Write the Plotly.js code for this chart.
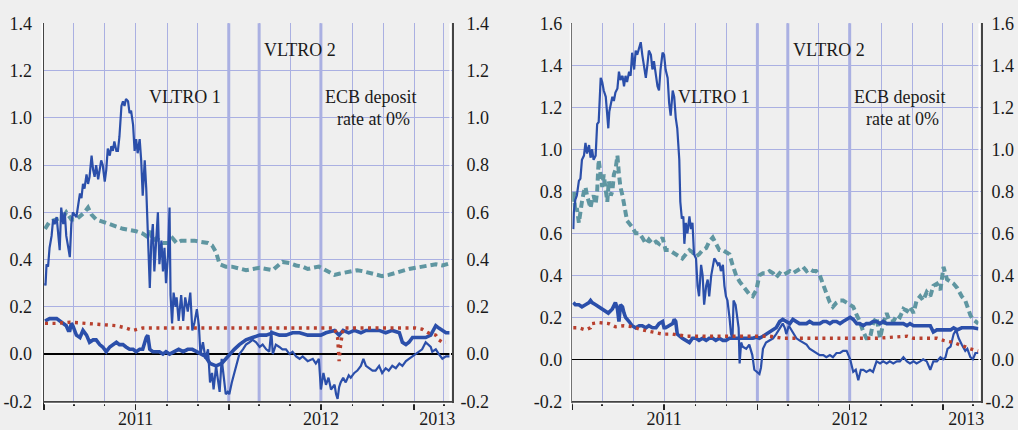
<!DOCTYPE html>
<html><head><meta charset="utf-8">
<script src="https://cdn.plot.ly/plotly-3.0.1.min.js"></script>
<style>html,body{margin:0;padding:0;background:#efefef;}#chart{width:1018px;height:430px;}</style>
</head><body><div id="chart"></div>
<script>
// ---------- DATA ----------
// Left panel
const leftThinDates = ['2011-01-03','2011-01-04','2011-01-06','2011-01-09','2011-01-12','2011-01-16','2011-01-19','2011-01-22','2011-01-26','2011-01-29','2011-02-01','2011-02-04','2011-02-08','2011-02-11','2011-02-14','2011-02-18','2011-02-21','2011-02-24','2011-02-27','2011-03-06','2011-03-09','2011-03-13','2011-03-16','2011-03-19','2011-03-22','2011-03-26','2011-03-29','2011-04-01','2011-04-05','2011-04-08','2011-04-11','2011-04-14','2011-04-18','2011-04-21','2011-04-24','2011-04-27','2011-05-01','2011-05-04','2011-05-07','2011-05-11','2011-05-14','2011-05-17','2011-05-20','2011-05-24','2011-05-27','2011-05-30','2011-06-03','2011-06-06','2011-06-09','2011-06-12','2011-06-16','2011-06-19','2011-06-22','2011-06-26','2011-06-29','2011-07-02','2011-07-05','2011-07-09','2011-07-12','2011-07-15','2011-07-19','2011-07-22','2011-07-25','2011-07-29','2011-08-01','2011-08-04','2011-08-07','2011-08-11','2011-08-14','2011-08-17','2011-08-21','2011-08-24','2011-08-27','2011-08-30','2011-09-03','2011-09-06','2011-09-08','2011-09-11','2011-09-14','2011-09-18','2011-09-20','2011-09-24','2011-09-29','2011-10-03','2011-10-07','2011-10-12','2011-10-17','2011-10-21','2011-10-25','2011-10-30','2011-11-03','2011-11-06','2011-11-11','2011-11-16','2011-11-21','2011-11-25','2011-11-29','2011-12-02','2011-12-07','2011-12-10','2011-12-14','2011-12-18','2011-12-22','2011-12-26','2011-12-30','2012-01-02','2012-01-07','2012-01-12','2012-01-17','2012-01-22','2012-01-29','2012-02-04','2012-02-11','2012-02-17','2012-02-24','2012-03-02','2012-03-08','2012-03-15','2012-03-21','2012-03-25','2012-03-28','2012-04-03','2012-04-10','2012-04-16','2012-04-23','2012-04-30','2012-05-06','2012-05-13','2012-05-20','2012-05-26','2012-06-05','2012-06-15','2012-06-21','2012-06-27','2012-07-01','2012-07-06','2012-07-11','2012-07-16','2012-07-21','2012-07-28','2012-07-31','2012-08-03','2012-08-06','2012-08-09','2012-08-14','2012-08-19','2012-08-25','2012-08-29','2012-09-05','2012-09-11','2012-09-18','2012-09-23','2012-09-28','2012-10-04','2012-10-11','2012-10-17','2012-10-24','2012-10-30','2012-11-06','2012-11-12','2012-11-19','2012-11-26','2012-12-03','2012-12-09','2012-12-16','2012-12-22','2012-12-29','2013-01-04','2013-01-11','2013-01-17','2013-01-24','2013-01-29','2013-02-03','2013-02-06','2013-02-13','2013-02-19','2013-02-26','2013-03-05','2013-03-15'];
const leftThinVals = [0.30,0.29,0.38,0.37,0.45,0.50,0.57,0.55,0.58,0.50,0.44,0.62,0.55,0.60,0.50,0.45,0.41,0.55,0.60,0.58,0.62,0.68,0.66,0.72,0.70,0.76,0.72,0.75,0.84,0.78,0.75,0.80,0.74,0.78,0.82,0.80,0.73,0.78,0.87,0.84,0.88,0.86,0.90,0.86,0.86,0.92,1.05,1.07,1.05,1.08,1.07,1.02,1.03,0.97,0.86,0.91,0.85,0.91,0.82,0.67,0.82,0.70,0.55,0.28,0.48,0.55,0.35,0.50,0.60,0.38,0.48,0.35,0.45,0.30,0.42,0.62,0.25,0.13,0.26,0.20,0.24,0.14,0.25,0.14,0.24,0.18,0.26,0.10,0.13,0.19,0.12,0.00,0.05,-0.02,0.02,-0.12,-0.08,-0.15,-0.05,-0.10,-0.16,-0.02,-0.10,-0.17,-0.16,-0.17,-0.12,-0.08,-0.04,0.00,0.02,0.04,0.05,0.06,0.05,0.03,0.04,0.02,0.01,0.10,0.00,0.04,0.03,0.02,0.02,0.00,0.01,-0.01,-0.02,-0.01,-0.03,-0.02,-0.04,-0.02,-0.15,-0.08,-0.13,-0.10,-0.15,-0.13,-0.17,-0.19,-0.14,-0.12,-0.10,-0.12,-0.09,-0.10,-0.08,-0.07,-0.05,-0.02,-0.05,-0.06,-0.07,-0.07,-0.05,-0.08,-0.06,-0.07,-0.05,-0.06,-0.04,-0.05,-0.03,-0.02,-0.01,0.00,0.01,0.02,0.05,0.04,0.03,0.01,0.02,0.00,-0.02,-0.01,-0.01];

const leftThickDates = ['2011-01-03','2011-01-12','2011-01-26','2011-02-01','2011-02-08','2011-02-14','2011-02-18','2011-02-21','2011-02-24','2011-02-27','2011-03-06','2011-03-13','2011-03-19','2011-03-26','2011-04-01','2011-04-08','2011-04-14','2011-04-21','2011-04-27','2011-05-04','2011-05-11','2011-05-17','2011-05-24','2011-05-30','2011-06-06','2011-06-12','2011-06-19','2011-06-26','2011-07-02','2011-07-09','2011-07-15','2011-07-22','2011-07-25','2011-07-29','2011-08-04','2011-08-11','2011-08-17','2011-08-24','2011-08-30','2011-09-06','2011-09-14','2011-09-24','2011-10-03','2011-10-12','2011-10-21','2011-10-30','2011-11-06','2011-11-16','2011-11-25','2011-12-07','2011-12-18','2011-12-26','2012-01-02','2012-01-12','2012-01-22','2012-02-04','2012-02-17','2012-03-02','2012-03-15','2012-03-28','2012-04-10','2012-04-23','2012-05-06','2012-05-20','2012-06-05','2012-06-21','2012-07-01','2012-07-11','2012-07-28','2012-08-06','2012-08-14','2012-08-25','2012-09-05','2012-09-18','2012-09-28','2012-10-11','2012-10-24','2012-11-06','2012-11-19','2012-12-03','2012-12-09','2012-12-16','2012-12-22','2012-12-29','2013-01-11','2013-01-24','2013-02-03','2013-02-13','2013-02-19','2013-02-26','2013-03-05','2013-03-15'];
const leftThickVals = [0.14,0.15,0.15,0.14,0.13,0.12,0.10,0.10,0.13,0.12,0.08,0.07,0.10,0.08,0.05,0.06,0.06,0.04,0.03,0.01,0.03,0.04,0.05,0.04,0.04,0.03,0.02,0.02,0.01,0.02,0.02,0.07,0.08,0.02,0.01,0.01,0.01,0.00,0.01,0.00,0.01,0.02,0.01,0.02,0.02,0.01,0.00,-0.01,-0.04,-0.05,-0.04,-0.02,0.00,0.02,0.04,0.06,0.07,0.08,0.08,0.09,0.08,0.08,0.09,0.09,0.08,0.08,0.08,0.09,0.10,0.08,0.10,0.09,0.10,0.09,0.10,0.10,0.10,0.09,0.10,0.09,0.05,0.04,0.05,0.07,0.07,0.07,0.08,0.12,0.11,0.10,0.09,0.09];

const leftTealDates = ['2011-01-03','2011-01-12','2011-01-26','2011-02-08','2011-02-14','2011-02-24','2011-03-06','2011-03-16','2011-03-22','2011-03-29','2011-04-05','2011-04-14','2011-04-27','2011-05-11','2011-05-24','2011-06-06','2011-06-19','2011-07-02','2011-07-15','2011-07-22','2011-07-29','2011-08-04','2011-08-11','2011-08-24','2011-09-03','2011-09-12','2011-09-20','2011-09-29','2011-10-12','2011-10-25','2011-11-06','2011-11-21','2011-11-29','2011-12-07','2011-12-14','2011-12-26','2012-01-07','2012-01-22','2012-02-04','2012-02-17','2012-03-02','2012-03-15','2012-03-28','2012-04-10','2012-04-16','2012-04-30','2012-05-13','2012-05-26','2012-06-05','2012-06-15','2012-06-27','2012-07-06','2012-07-16','2012-07-28','2012-08-06','2012-08-19','2012-08-29','2012-09-11','2012-09-23','2012-10-04','2012-10-17','2012-10-30','2012-11-12','2012-11-26','2012-12-09','2012-12-22','2013-01-04','2013-01-17','2013-01-29','2013-02-13','2013-02-26','2013-03-15'];
const leftTealVals = [0.53,0.56,0.57,0.58,0.60,0.57,0.57,0.59,0.60,0.62,0.59,0.57,0.56,0.55,0.54,0.53,0.525,0.52,0.51,0.50,0.52,0.48,0.49,0.47,0.47,0.49,0.47,0.48,0.48,0.48,0.475,0.47,0.46,0.43,0.38,0.37,0.37,0.36,0.355,0.36,0.365,0.36,0.355,0.38,0.39,0.385,0.375,0.37,0.36,0.365,0.37,0.36,0.35,0.335,0.34,0.345,0.35,0.355,0.35,0.345,0.335,0.33,0.335,0.345,0.355,0.36,0.365,0.37,0.375,0.38,0.375,0.385];

const leftRedDates = ['2011-01-03','2011-01-26','2011-02-21','2011-03-19','2011-04-21','2011-05-24','2011-06-12','2011-06-26','2011-07-15','2011-08-30','2011-11-03','2012-01-07','2012-03-15','2012-05-20','2012-07-28','2012-08-03','2012-08-06','2012-08-09','2012-08-14','2012-09-28','2012-12-03','2013-01-04','2013-01-17','2013-01-29','2013-02-13','2013-02-19','2013-02-26','2013-03-05'];
const leftRedVals = [0.13,0.13,0.135,0.13,0.125,0.12,0.11,0.10,0.11,0.11,0.11,0.11,0.11,0.11,0.11,0.07,-0.03,0.04,0.11,0.11,0.11,0.11,0.105,0.09,0.08,0.06,0.05,0.05];

// Right panel
const rightThinDates = ['2011-01-03','2011-01-04','2011-01-07','2011-01-10','2011-01-14','2011-01-17','2011-01-20','2011-01-24','2011-01-27','2011-01-30','2011-02-03','2011-02-06','2011-02-09','2011-02-12','2011-02-16','2011-02-19','2011-02-22','2011-02-26','2011-03-01','2011-03-04','2011-03-08','2011-03-11','2011-03-13','2011-03-15','2011-03-18','2011-03-21','2011-03-24','2011-03-27','2011-03-31','2011-04-03','2011-04-06','2011-04-10','2011-04-13','2011-04-16','2011-04-19','2011-04-23','2011-04-26','2011-04-29','2011-05-03','2011-05-06','2011-05-09','2011-05-13','2011-05-16','2011-05-19','2011-05-22','2011-05-26','2011-05-29','2011-06-01','2011-06-05','2011-06-08','2011-06-11','2011-06-15','2011-06-18','2011-06-21','2011-06-24','2011-06-28','2011-07-01','2011-07-04','2011-07-08','2011-07-11','2011-07-14','2011-07-18','2011-07-21','2011-07-24','2011-07-27','2011-07-31','2011-08-02','2011-08-05','2011-08-08','2011-08-10','2011-08-13','2011-08-16','2011-08-20','2011-08-23','2011-08-26','2011-08-29','2011-09-02','2011-09-05','2011-09-08','2011-09-12','2011-09-15','2011-09-18','2011-09-22','2011-09-25','2011-09-28','2011-10-02','2011-10-05','2011-10-08','2011-10-11','2011-10-15','2011-10-18','2011-10-21','2011-10-25','2011-10-28','2011-10-31','2011-11-03','2011-11-07','2011-11-10','2011-11-13','2011-11-15','2011-11-19','2011-11-22','2011-11-25','2011-11-27','2011-11-30','2011-12-03','2011-12-10','2011-12-16','2011-12-22','2011-12-26','2011-12-31','2012-01-05','2012-01-08','2012-01-12','2012-01-18','2012-01-25','2012-02-01','2012-02-07','2012-02-14','2012-02-20','2012-02-24','2012-02-27','2012-03-03','2012-03-08','2012-03-12','2012-03-18','2012-03-24','2012-03-31','2012-04-07','2012-04-13','2012-04-20','2012-04-26','2012-05-03','2012-05-10','2012-05-16','2012-05-23','2012-05-29','2012-06-05','2012-06-12','2012-06-18','2012-06-25','2012-07-02','2012-07-05','2012-07-08','2012-07-13','2012-07-18','2012-07-23','2012-07-28','2012-08-03','2012-08-10','2012-08-16','2012-08-23','2012-08-30','2012-09-05','2012-09-12','2012-09-18','2012-09-25','2012-10-02','2012-10-08','2012-10-15','2012-10-22','2012-10-28','2012-11-04','2012-11-10','2012-11-17','2012-11-23','2012-11-30','2012-12-07','2012-12-13','2012-12-20','2012-12-27','2013-01-02','2013-01-06','2013-01-10','2013-01-16','2013-01-22','2013-01-27','2013-02-01','2013-02-07','2013-02-14','2013-02-18','2013-02-24','2013-03-01','2013-03-06','2013-03-12'];
const rightThinVals = [0.62,0.70,0.76,0.78,0.85,0.86,0.95,0.97,1.03,0.98,1.02,0.96,1.00,0.95,0.97,1.12,1.13,1.34,1.32,1.28,1.25,1.15,1.10,1.18,1.22,1.25,1.23,1.27,1.29,1.37,1.33,1.35,1.30,1.35,1.32,1.37,1.35,1.46,1.38,1.47,1.45,1.49,1.51,1.45,1.40,1.34,1.40,1.47,1.45,1.38,1.42,1.35,1.30,1.28,1.38,1.46,1.45,1.38,1.34,1.22,1.16,1.28,1.25,1.15,1.10,0.95,0.75,0.67,0.68,0.55,0.65,0.60,0.68,0.62,0.65,0.50,0.48,0.35,0.30,0.45,0.40,0.26,0.35,0.38,0.30,0.40,0.45,0.48,0.47,0.45,0.46,0.42,0.45,0.35,0.30,0.28,0.20,0.12,0.10,0.28,0.26,0.20,0.15,-0.02,0.08,0.06,0.05,0.07,0.02,-0.05,-0.06,-0.07,-0.04,0.05,0.08,0.09,0.10,0.12,0.15,0.17,0.15,0.12,0.16,0.14,0.12,0.10,0.09,0.08,0.07,0.05,0.04,0.03,0.02,0.02,0.01,0.02,0.01,0.03,0.03,0.04,0.04,0.00,-0.04,-0.06,-0.05,-0.10,-0.05,-0.05,-0.06,-0.05,-0.06,-0.01,-0.02,-0.01,-0.02,-0.01,-0.02,-0.01,-0.01,0.01,-0.01,-0.02,-0.01,-0.02,-0.01,0.00,-0.01,-0.05,-0.01,-0.01,0.01,0.00,0.01,0.05,0.06,0.12,0.14,0.10,0.07,0.04,0.05,0.01,0.00,0.03,0.03];

const rightThickDates = ['2011-01-03','2011-01-07','2011-01-14','2011-01-20','2011-01-27','2011-02-03','2011-02-06','2011-02-09','2011-02-16','2011-02-22','2011-03-01','2011-03-08','2011-03-13','2011-03-21','2011-03-27','2011-03-31','2011-04-03','2011-04-06','2011-04-10','2011-04-13','2011-04-16','2011-04-23','2011-04-29','2011-05-06','2011-05-13','2011-05-19','2011-05-26','2011-06-01','2011-06-08','2011-06-15','2011-06-21','2011-06-28','2011-07-01','2011-07-04','2011-07-11','2011-07-18','2011-07-21','2011-07-24','2011-07-27','2011-07-31','2011-08-06','2011-08-13','2011-08-20','2011-08-26','2011-09-02','2011-09-08','2011-09-15','2011-09-22','2011-09-28','2011-10-05','2011-10-11','2011-10-18','2011-10-25','2011-10-31','2011-11-07','2011-11-13','2011-11-20','2011-11-27','2011-12-03','2011-12-10','2011-12-16','2011-12-23','2011-12-30','2012-01-05','2012-01-12','2012-01-18','2012-01-25','2012-02-01','2012-02-07','2012-02-14','2012-02-20','2012-02-27','2012-03-05','2012-03-11','2012-03-18','2012-03-24','2012-03-31','2012-04-07','2012-04-13','2012-04-20','2012-04-26','2012-05-03','2012-05-10','2012-05-16','2012-05-23','2012-05-29','2012-06-05','2012-06-12','2012-06-18','2012-06-25','2012-07-02','2012-07-08','2012-07-15','2012-07-21','2012-07-28','2012-08-03','2012-08-10','2012-08-16','2012-08-23','2012-08-30','2012-09-05','2012-09-12','2012-09-18','2012-09-25','2012-10-02','2012-10-08','2012-10-15','2012-10-22','2012-10-28','2012-11-04','2012-11-10','2012-11-17','2012-11-23','2012-11-30','2012-12-07','2012-12-13','2012-12-20','2012-12-27','2013-01-02','2013-01-09','2013-01-16','2013-01-22','2013-01-29','2013-02-07','2013-02-18','2013-03-01','2013-03-12'];
const rightThickVals = [0.27,0.26,0.26,0.25,0.26,0.27,0.28,0.27,0.26,0.25,0.24,0.23,0.22,0.24,0.27,0.24,0.18,0.26,0.25,0.22,0.20,0.18,0.16,0.15,0.16,0.16,0.15,0.16,0.15,0.15,0.17,0.18,0.15,0.15,0.16,0.17,0.19,0.18,0.12,0.11,0.10,0.09,0.08,0.10,0.10,0.09,0.10,0.09,0.10,0.10,0.09,0.10,0.09,0.09,0.10,0.10,0.10,0.10,0.10,0.10,0.10,0.10,0.105,0.10,0.11,0.12,0.13,0.14,0.15,0.18,0.19,0.18,0.17,0.19,0.18,0.17,0.17,0.17,0.18,0.17,0.17,0.17,0.18,0.18,0.17,0.18,0.18,0.17,0.18,0.19,0.20,0.19,0.17,0.17,0.16,0.17,0.17,0.18,0.18,0.17,0.18,0.17,0.17,0.17,0.17,0.17,0.17,0.16,0.17,0.16,0.16,0.16,0.16,0.16,0.16,0.13,0.14,0.14,0.14,0.14,0.14,0.15,0.14,0.15,0.15,0.15,0.145];

const rightTealDates = ['2011-01-03','2011-01-04','2011-01-07','2011-01-10','2011-01-14','2011-01-17','2011-01-20','2011-01-24','2011-01-27','2011-01-30','2011-02-03','2011-02-06','2011-02-09','2011-02-12','2011-02-16','2011-02-19','2011-02-22','2011-02-26','2011-03-01','2011-03-04','2011-03-08','2011-03-11','2011-03-14','2011-03-18','2011-03-21','2011-03-24','2011-03-27','2011-03-31','2011-04-03','2011-04-06','2011-04-10','2011-04-13','2011-04-16','2011-04-19','2011-04-23','2011-04-29','2011-05-06','2011-05-13','2011-05-19','2011-05-26','2011-06-01','2011-06-08','2011-06-15','2011-06-21','2011-06-28','2011-07-01','2011-07-04','2011-07-11','2011-07-18','2011-07-24','2011-07-31','2011-08-06','2011-08-13','2011-08-20','2011-08-26','2011-09-02','2011-09-08','2011-09-15','2011-09-22','2011-09-28','2011-10-05','2011-10-11','2011-10-18','2011-10-25','2011-10-31','2011-11-07','2011-11-13','2011-11-20','2011-11-27','2011-12-03','2011-12-10','2011-12-16','2011-12-23','2011-12-30','2012-01-05','2012-01-12','2012-01-18','2012-01-25','2012-02-01','2012-02-07','2012-02-14','2012-02-20','2012-02-27','2012-03-05','2012-03-11','2012-03-18','2012-03-24','2012-03-31','2012-04-07','2012-04-13','2012-04-20','2012-04-26','2012-05-03','2012-05-10','2012-05-16','2012-05-23','2012-05-29','2012-06-05','2012-06-12','2012-06-18','2012-06-25','2012-07-02','2012-07-08','2012-07-15','2012-07-21','2012-07-28','2012-08-03','2012-08-10','2012-08-16','2012-08-23','2012-08-30','2012-09-05','2012-09-12','2012-09-18','2012-09-25','2012-10-02','2012-10-08','2012-10-15','2012-10-22','2012-10-28','2012-11-04','2012-11-10','2012-11-17','2012-11-23','2012-11-30','2012-12-07','2012-12-13','2012-12-20','2012-12-27','2013-01-02','2013-01-06','2013-01-09','2013-01-16','2013-01-22','2013-01-29','2013-02-07','2013-02-14','2013-02-18','2013-02-24','2013-03-01','2013-03-06','2013-03-12'];
const rightTealVals = [0.75,0.80,0.70,0.72,0.65,0.72,0.75,0.80,0.82,0.78,0.75,0.72,0.76,0.78,0.74,0.80,0.95,0.85,0.82,0.88,0.78,0.75,0.85,0.78,0.80,0.88,0.90,0.97,0.88,0.82,0.78,0.75,0.70,0.66,0.65,0.63,0.60,0.60,0.58,0.55,0.57,0.55,0.56,0.55,0.58,0.55,0.52,0.52,0.51,0.50,0.49,0.48,0.50,0.52,0.51,0.49,0.50,0.52,0.53,0.56,0.58,0.55,0.52,0.52,0.51,0.50,0.45,0.40,0.37,0.35,0.33,0.31,0.30,0.33,0.40,0.41,0.41,0.42,0.41,0.39,0.41,0.40,0.41,0.42,0.41,0.42,0.43,0.44,0.42,0.43,0.42,0.42,0.40,0.35,0.32,0.27,0.25,0.27,0.28,0.28,0.27,0.26,0.25,0.21,0.18,0.13,0.10,0.10,0.17,0.20,0.10,0.17,0.22,0.18,0.18,0.21,0.20,0.24,0.23,0.25,0.22,0.28,0.30,0.28,0.32,0.30,0.35,0.36,0.33,0.44,0.40,0.38,0.37,0.36,0.34,0.30,0.28,0.25,0.21,0.19,0.18,0.17];

const rightRedDates = ['2011-01-03','2011-01-14','2011-01-27','2011-02-06','2011-02-09','2011-02-22','2011-03-14','2011-03-27','2011-04-13','2011-04-29','2011-05-19','2011-06-08','2011-06-28','2011-07-18','2011-08-13','2011-09-28','2011-12-03','2012-01-25','2012-02-20','2012-04-13','2012-06-18','2012-08-23','2012-10-22','2012-11-04','2012-12-20','2013-01-02','2013-01-22','2013-02-07','2013-02-24','2013-03-12'];
const rightRedVals = [0.15,0.15,0.14,0.15,0.17,0.175,0.17,0.155,0.16,0.155,0.14,0.13,0.12,0.12,0.11,0.11,0.11,0.11,0.10,0.10,0.10,0.10,0.11,0.10,0.10,0.09,0.08,0.065,0.05,0.04];

// Events (vertical markers) and labels
const eventDates = ['2012-01-01','2012-03-01','2012-07-01'];
const leftTickVals = [-0.2,0,0.2,0.4,0.6,0.8,1.0,1.2,1.4];
const leftTickText = ['-0.2','0.0','0.2','0.4','0.6','0.8','1.0','1.2','1.4'];
const rightTickVals = [-0.2,0,0.2,0.4,0.6,0.8,1.0,1.2,1.4,1.6];
const rightTickText = ['-0.2','0.0','0.2','0.4','0.6','0.8','1.0','1.2','1.4','1.6'];
const yearLabelDates = ['2011-07-01','2012-07-01','2013-02-16'];
const yearLabelText = ['2011','2012','2013'];
const xRange = ['2011-01-01','2013-03-17'];

// ---------- STYLE ----------
const W = 1018, H = 430;
const BG = '#efefef', GRID = '#aab0e2', AXIS = '#444444';
const BLUE = '#2b4faa', TEAL = '#5f96a1', RED = '#b8402e';
const FONT = {family: '"Liberation Serif", "Times New Roman", serif', size: 18, color: '#1a1a1a'};
const yDom = [1 - 401.3 / H, 1 - 23.3 / H];

function series(x, y, xa, ya, line) {
  return {x: x, y: y, xaxis: xa, yaxis: ya, type: 'scatter', mode: 'lines', line: line, hoverinfo: 'skip', showlegend: false};
}
const thinL = {color: BLUE, width: 2.2};
const thickL = {color: BLUE, width: 3.6};
const tealL = {color: TEAL, width: 4, dash: '7px,4px'};
const redL = {color: RED, width: 3.4, dash: '3px,4.5px'};

const data = [
  series(leftTealDates, leftTealVals, 'x', 'y', tealL),
  series(leftThinDates, leftThinVals, 'x', 'y', thinL),
  series(leftThickDates, leftThickVals, 'x', 'y', thickL),
  series(leftRedDates, leftRedVals, 'x', 'y', redL),
  series(rightTealDates, rightTealVals, 'x2', 'y2', tealL),
  series(rightThinDates, rightThinVals, 'x2', 'y2', thinL),
  series(rightThickDates, rightThickVals, 'x2', 'y2', thickL),
  series(rightRedDates, rightRedVals, 'x2', 'y2', redL),
  // empty traces so the label-only overlay axes exist
  {x: [], y: [], xaxis: 'x3', yaxis: 'y3', type: 'scatter', showlegend: false},
  {x: [], y: [], xaxis: 'x4', yaxis: 'y4', type: 'scatter', showlegend: false}
];

function dateAxis(dom, anchor) {
  return {
    type: 'date', domain: dom, anchor: anchor, range: xRange,
    tick0: '2011-01-01', dtick: 'M6', ticks: 'outside', ticklen: 7, tickwidth: 1.5, tickcolor: '#222',
    showticklabels: false, showgrid: true, gridcolor: GRID, gridwidth: 1,
    showline: true, linecolor: AXIS, linewidth: 1.5, zeroline: false,
    minor: {tick0: '2011-01-01', dtick: 'M2', ticks: 'outside', ticklen: 3, tickwidth: 1.5, tickcolor: '#222', showgrid: true, gridcolor: GRID, gridwidth: 1},
    fixedrange: true
  };
}
function labelXAxis(over, anchor) {
  return {
    type: 'date', overlaying: over, anchor: anchor, range: xRange,
    tickmode: 'array', tickvals: yearLabelDates, ticktext: yearLabelText,
    ticks: '', showgrid: false, showline: false, zeroline: false,
    tickfont: FONT, ticklabelstandoff: 5, fixedrange: true
  };
}
function valAxis(dom, anchor, range, tv, tt, standoff) {
  return {
    domain: dom, anchor: anchor, range: range,
    tickmode: 'array', tickvals: tv, ticktext: tt, ticks: '',
    showgrid: true, gridcolor: GRID, gridwidth: 1,
    zeroline: true, zerolinecolor: '#000', zerolinewidth: 1.2,
    showline: true, mirror: true, linecolor: AXIS, linewidth: 1.5,
    tickfont: FONT, ticklabelstandoff: standoff, fixedrange: true
  };
}
function rightValAxis(over, range, tv, tt, pos, standoff) {
  return {
    overlaying: over, anchor: 'free', position: pos, side: 'left', range: range,
    tickmode: 'array', tickvals: tv, ticktext: tt, ticks: '',
    showgrid: false, zeroline: false, showline: false,
    tickfont: FONT, ticklabelstandoff: standoff, fixedrange: true
  };
}

const xL = [44 / W, 452 / W], xR = [572.3 / W, 981 / W];

const shapes = [];
eventDates.forEach(function (d) {
  shapes.push({type: 'line', xref: 'x', yref: 'y domain', x0: d, x1: d, y0: 0, y1: 1, line: {color: GRID, width: 3}, layer: 'below'});
  shapes.push({type: 'line', xref: 'x2', yref: 'y2 domain', x0: d, x1: d, y0: 0, y1: 1, line: {color: GRID, width: 3}, layer: 'below'});
});
// white bevel highlights beside the axis lines
function wline(x0, y0, x1, y1) {
  shapes.push({type: 'line', xref: 'paper', yref: 'paper', x0: x0 / W, x1: x1 / W, y0: 1 - y0 / H, y1: 1 - y1 / H, line: {color: '#ffffff', width: 1.5}, layer: 'above'});
}
wline(42.2, 23.3, 42.2, 410); wline(44, 403.6, 452, 403.6); wline(450.2, 23.3, 450.2, 401);
wline(570.5, 23.3, 570.5, 410); wline(572.3, 403.6, 981, 403.6); wline(979.2, 23.3, 979.2, 401);

function ann(text, px, py) {
  return {text: text, xref: 'paper', yref: 'paper', x: px / W, y: 1 - py / H, xanchor: 'center', yanchor: 'middle', showarrow: false, font: FONT};
}
const annotations = [
  ann('VLTRO 1', 185, 97), ann('VLTRO 2', 300, 50), ann('ECB deposit', 371, 97), ann('rate at 0%', 373, 119),
  ann('VLTRO 1', 713.5, 97), ann('VLTRO 2', 829, 50), ann('ECB deposit', 900, 97), ann('rate at 0%', 902, 119)
];

const layout = {
  width: W, height: H, margin: {l: 0, r: 0, t: 0, b: 0},
  paper_bgcolor: BG, plot_bgcolor: BG, showlegend: false,
  font: FONT,
  xaxis: dateAxis(xL, 'y'),
  yaxis: valAxis(yDom, 'x', [-0.2, 1.4], leftTickVals, leftTickText, 7),
  xaxis2: dateAxis(xR, 'y2'),
  yaxis2: valAxis(yDom, 'x2', [-0.2, 1.6], rightTickVals, rightTickText, 5),
  xaxis3: labelXAxis('x', 'y'),
  yaxis3: rightValAxis('y', [-0.2, 1.4], leftTickVals, leftTickText, 491 / W, 2),
  xaxis4: labelXAxis('x2', 'y2'),
  yaxis4: rightValAxis('y2', [-0.2, 1.6], rightTickVals, rightTickText, 1, 4),
  shapes: shapes, annotations: annotations
};

Plotly.newPlot('chart', data, layout, {staticPlot: true, displayModeBar: false});
</script></body></html>
